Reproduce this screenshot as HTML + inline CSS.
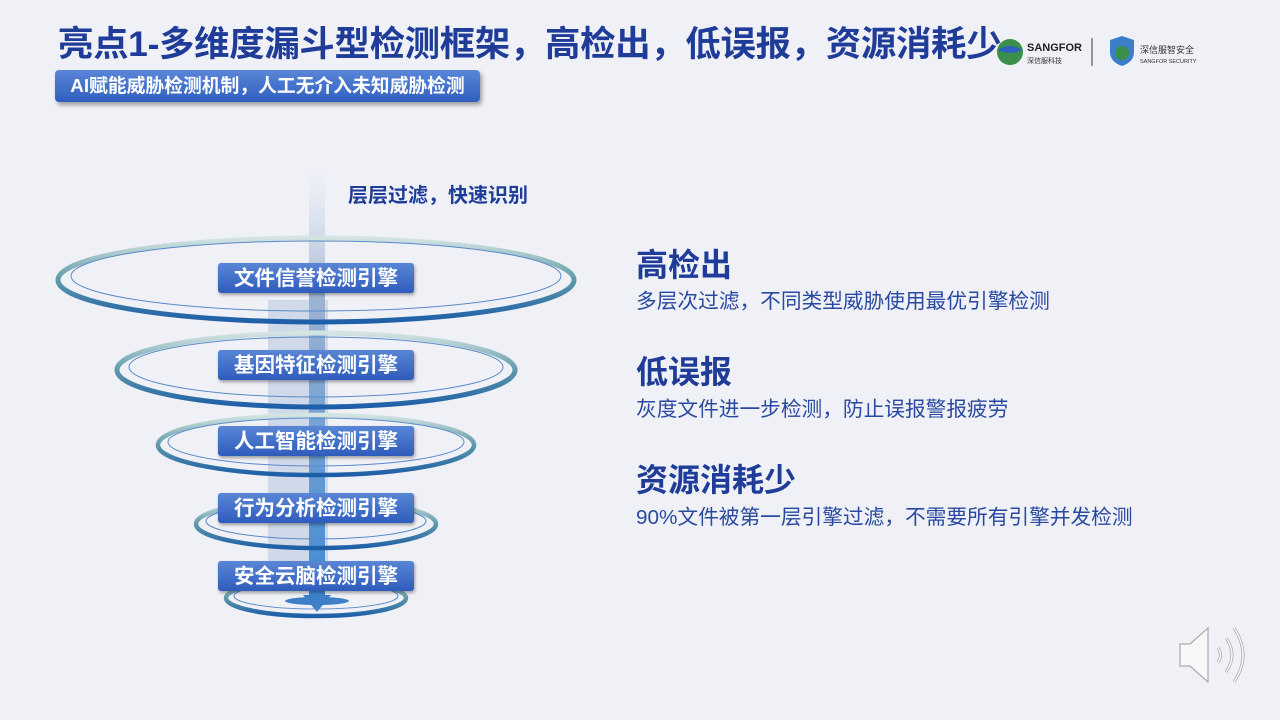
<!DOCTYPE html>
<html><head><meta charset="utf-8"><style>
body{margin:0;width:1280px;height:720px;background:#eff1f7;position:relative;overflow:hidden;font-family:"Liberation Sans","Noto Sans CJK SC",sans-serif}
.t{position:absolute;left:58px;top:21px;font-size:35.4px;font-weight:bold;color:#1f3c98;white-space:nowrap;letter-spacing:-0.3px;line-height:46px}
.sub{position:absolute;left:55px;top:70px;width:425px;height:32px;border-radius:4px;background:linear-gradient(#5b86d8,#2f5fbf);box-shadow:2px 3px 4px rgba(0,0,0,.35);color:#fff;font-weight:bold;font-size:18.8px;line-height:32px;text-align:center}
.h{position:absolute;left:636px;font-size:32px;font-weight:bold;color:#1f3c98;line-height:36px}
.d{position:absolute;left:636px;font-size:20.7px;color:#2a49a0;line-height:26px;white-space:nowrap}
.b{position:absolute;left:218px;width:196px;height:30px;border-radius:3px;background:linear-gradient(#5a86d6,#2f5cbc);box-shadow:1px 2px 3px rgba(0,0,0,.35);color:#fff;font-weight:bold;font-size:20.5px;line-height:31px;text-align:center;white-space:nowrap}
</style></head><body>
<div class="t">亮点1-多维度漏斗型检测框架，高检出，低误报，资源消耗少</div>
<div class="sub">AI赋能威胁检测机制，人工无介入未知威胁检测</div>
<svg width="1280" height="720" style="position:absolute;left:0;top:0">
<defs>
<linearGradient id="ar" x1="0" y1="0" x2="0" y2="1"><stop offset="0" stop-color="#d8e0ec" stop-opacity="0"/><stop offset=".3" stop-color="#9fb4d2"/><stop offset="1" stop-color="#3f8ad6"/></linearGradient>
<linearGradient id="rg" x1="0" y1="0" x2="0" y2="1"><stop offset="0" stop-color="#d4e4e2"/><stop offset=".5" stop-color="#5e9aa8"/><stop offset="1" stop-color="#1d5ea8"/></linearGradient>
</defs>
<rect x="268" y="300" width="60" height="270" fill="#b9c9e0" opacity=".6"/>
<rect x="309" y="165" width="16" height="430" fill="url(#ar)"/>
<polygon points="303,595 331,595 317,612" fill="#3f7fc8"/>
<g fill="none">
<ellipse cx="316" cy="280" rx="258" ry="42" stroke="url(#rg)" stroke-width="5"/>
<ellipse cx="316" cy="276" rx="245" ry="35" stroke="#5a8ac8" stroke-width="1"/>
<ellipse cx="316" cy="370" rx="199" ry="37" stroke="url(#rg)" stroke-width="5"/>
<ellipse cx="316" cy="367" rx="187" ry="30" stroke="#5a8ac8" stroke-width="1"/>
<ellipse cx="316" cy="445" rx="158" ry="30" stroke="url(#rg)" stroke-width="4.5"/>
<ellipse cx="316" cy="442" rx="148" ry="24" stroke="#5a8ac8" stroke-width="1"/>
<ellipse cx="316" cy="524" rx="120" ry="24" stroke="url(#rg)" stroke-width="4.5"/>
<ellipse cx="316" cy="521" rx="110" ry="18" stroke="#5a8ac8" stroke-width="1"/>
<ellipse cx="316" cy="598" rx="90" ry="18" stroke="url(#rg)" stroke-width="4.5"/>
<ellipse cx="316" cy="596" rx="82" ry="13" stroke="#5a8ac8" stroke-width="1"/>
</g>
<ellipse cx="317" cy="601" rx="32" ry="4" fill="#3f7fc8"/>
<text x="348" y="202" font-size="20" font-weight="bold" fill="#1f3c98" font-family="Liberation Sans,Noto Sans CJK SC,sans-serif">层层过滤，快速识别</text>
<circle cx="1010" cy="52" r="13" fill="#3a8f4a"/><path d="M998 50 q12 -8 24 0 q-12 6 -24 0z" fill="#2f5fbf"/>
<text x="1027" y="51" font-size="11" font-weight="bold" fill="#222">SANGFOR</text>
<text x="1027" y="63" font-size="7" fill="#333">深信服科技</text>
<line x1="1092" y1="38" x2="1092" y2="66" stroke="#777" stroke-width="1.5"/>
<path d="M1110 40 l12 -4 l12 4 v12 q0 10 -12 14 q-12 -4 -12 -14z" fill="#3a7fc8"/><circle cx="1122" cy="53" r="7" fill="#3a8f4a"/>
<text x="1140" y="53" font-size="9" fill="#333">深信服智安全</text>
<text x="1140" y="63" font-size="5.5" fill="#333">SANGFOR SECURITY</text>
<g fill="#f8f8f8" stroke="#aaa" stroke-width="1.2">
<path d="M1180 644 h10 l18 -16 v54 l-18 -16 h-10z"/></g>
<g fill="none" stroke="#aaa" stroke-width="3"><path d="M1218 648 q5 7 0 14"/><path d="M1226 638 q12 17 0 34"/><path d="M1234 628 q18 27 0 54"/></g>
<g fill="none" stroke="#f8f8f8" stroke-width="1.5"><path d="M1218 648 q5 7 0 14"/><path d="M1226 638 q12 17 0 34"/><path d="M1234 628 q18 27 0 54"/></g>
</svg>
<div class="b" style="top:263px">文件信誉检测引擎</div>
<div class="b" style="top:350px">基因特征检测引擎</div>
<div class="b" style="top:426px">人工智能检测引擎</div>
<div class="b" style="top:493px">行为分析检测引擎</div>
<div class="b" style="top:561px">安全云脑检测引擎</div>
<div class="h" style="top:247px">高检出</div>
<div class="d" style="top:289px">多层次过滤，不同类型威胁使用最优引擎检测</div>
<div class="h" style="top:354px">低误报</div>
<div class="d" style="top:397px">灰度文件进一步检测，防止误报警报疲劳</div>
<div class="h" style="top:462px">资源消耗少</div>
<div class="d" style="top:505px">90%文件被第一层引擎过滤，不需要所有引擎并发检测</div>
</body></html>
